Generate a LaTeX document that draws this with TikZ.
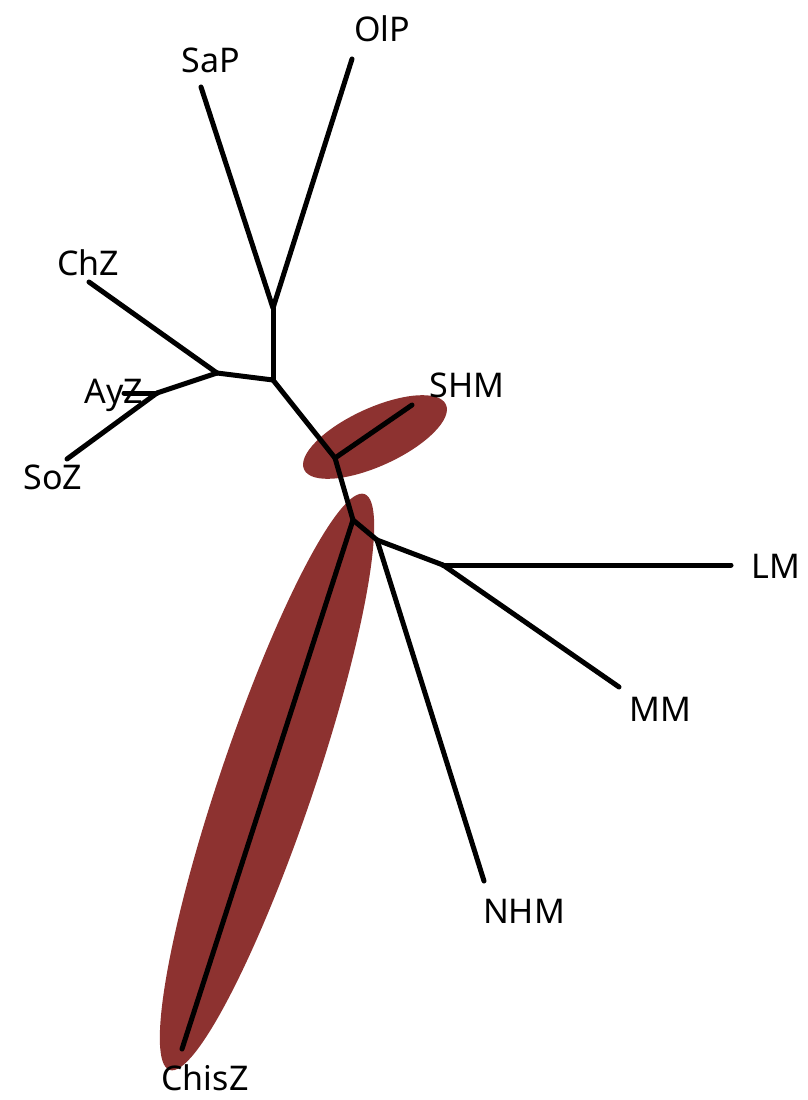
\documentclass[tikz,border=0pt]{standalone}
\usepackage{fontspec}
\setmainfont{Noto Sans}
\definecolor{blobred}{RGB}{141,50,48}
\begin{document}
\begin{tikzpicture}[x=1pt,y=-1pt,
  edge/.style={line width=5pt,line cap=round,line join=round,black},
  lbl/.style={font=\fontsize{34}{38}\selectfont,inner sep=0pt,text=black},
  blob/.style={fill=blobred}]
\useasboundingbox (0,0) rectangle (807,1100);
% highlight ellipses
\fill[blob,rotate around={24.6:(375,437)}] (375,437) ellipse (78 and 29);
\fill[blob,rotate around={71.3:(267,782)}] (267,782) ellipse (304 and 47);
% internal nodes
\coordinate (A) at (273,308);
\coordinate (B) at (273,380);
\coordinate (C) at (217,373);
\coordinate (H) at (157,393);
\coordinate (D) at (335,458);
\coordinate (E) at (353,520);
\coordinate (F) at (377,540);
\coordinate (G) at (443,565);
% tips
\coordinate (tOlP) at (352,59);
\coordinate (tSaP) at (201,87);
\coordinate (tChZ) at (89,282);
\coordinate (tAyZ) at (124,393);
\coordinate (tSoZ) at (67,459);
\coordinate (tSHM) at (412,405);
\coordinate (tChisZ) at (182,1049);
\coordinate (tLM) at (731,565);
\coordinate (tMM) at (619,687);
\coordinate (tNHM) at (484,881);
% edges
\draw[edge] (tSaP) -- (A) -- (tOlP);
\draw[edge] (A) -- (B);
\draw[edge] (B) -- (C);
\draw[edge] (C) -- (tChZ);
\draw[edge] (C) -- (H);
\draw[edge] (H) -- (tAyZ);
\draw[edge] (H) -- (tSoZ);
\draw[edge] (B) -- (D);
\draw[edge] (D) -- (tSHM);
\draw[edge] (D) -- (E);
\draw[edge] (E) -- (tChisZ);
\draw[edge] (E) -- (F);
\draw[edge] (F) -- (tNHM);
\draw[edge] (F) -- (G);
\draw[edge] (G) -- (tLM);
\draw[edge] (G) -- (tMM);
% labels
\node[lbl] (lOlP) at (382,29) {OlP};
\node[lbl] (lSaP) at (211,60) {SaP};
\node[lbl] (lChZ) at (88,263) {ChZ};
\node[lbl] (lAyZ) at (114,395) {AyZ};
\node[lbl] (lSoZ) at (53,477) {SoZ};
\node[lbl] (lSHM) at (467,385) {SHM};
\node[lbl] (lLM) at (776,566) {LM};
\node[lbl] (lMM) at (660,709) {MM};
\node[lbl] (lNHM) at (524,911) {NHM};
\node[lbl] (lChisZ) at (205,1078) {ChisZ};
\end{tikzpicture}
\end{document}
